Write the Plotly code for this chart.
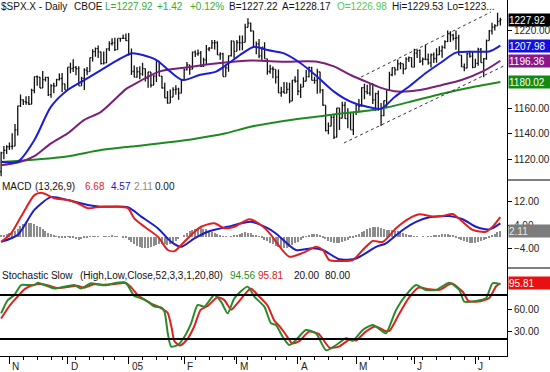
import pandas as pd
import plotly.graph_objects as go

# ---------------- trading calendar (categories) ----------------
HOLIDAYS = ["2004-11-25", "2004-12-24", "2005-01-17", "2005-02-21",
            "2005-03-25", "2005-05-30", "2005-07-04"]
trade_dates = [d for d in pd.bdate_range("2004-10-27", "2005-07-15")
               if d.strftime("%Y-%m-%d") not in HOLIDAYS]
n_bars = len(trade_dates)
bar_idx = list(range(n_bars))

# ---------------- daily OHLC ($SPX) ----------------
opens = [
    1111.1, 1125.4, 1127.4,
    1130.2, 1130.5, 1130.6, 1143.2, 1161.7, 1166.2, 1164.9, 1164.1, 1162.9, 1173.5, 1184.2, 1183.8, 1175.4, 1181.9, 1183.6, 1170.3, 1177.2, 1176.9, 1181.8, 1182.7, 1178.6,
    1173.8, 1191.4, 1190.3, 1191.2, 1190.3, 1177.1, 1182.8, 1189.2, 1188.0, 1198.7, 1203.4, 1205.7, 1203.2, 1194.2, 1194.7, 1205.5, 1209.6, 1210.1, 1204.9, 1213.5, 1213.5, 1213.6,
    1211.9, 1202.1, 1188.1, 1183.7, 1187.9, 1186.2, 1190.3, 1183.0, 1187.7, 1177.5, 1184.5, 1196.0, 1184.6, 1175.4, 1167.9, 1163.8, 1168.4, 1174.1, 1174.6, 1171.4,
    1181.3, 1189.4, 1193.2, 1189.9, 1203.0, 1201.7, 1202.3, 1192.0, 1197.0, 1205.3, 1206.1, 1210.1, 1210.3, 1200.8, 1201.6, 1184.2, 1190.8, 1200.2, 1211.4,
    1203.6, 1210.4, 1210.1, 1210.5, 1222.1, 1225.3, 1219.4, 1207.0, 1209.3, 1200.1, 1206.8, 1197.8, 1188.1, 1190.2, 1189.7, 1183.8, 1171.7, 1172.5, 1171.4, 1174.3, 1165.4, 1181.4,
    1180.6, 1172.9, 1176.1, 1180.6, 1184.1, 1191.1, 1181.2, 1181.2, 1187.8, 1173.8, 1162.1, 1142.6, 1146.0, 1152.8, 1137.5, 1160.0, 1152.1, 1162.1, 1151.8, 1156.4, 1143.2,
    1156.9, 1162.2, 1161.2, 1175.7, 1172.6, 1171.4, 1178.8, 1166.2, 1171.1, 1159.4, 1154.1, 1165.7, 1173.8, 1185.6, 1191.1, 1189.3, 1193.9, 1194.1, 1190.0, 1197.6, 1198.8,
    1191.5, 1202.2, 1204.3, 1196.0, 1197.5, 1197.3, 1194.7, 1200.9, 1198.1, 1200.8, 1203.9, 1206.6, 1211.0, 1217.0, 1216.1, 1213.6, 1213.9, 1200.7, 1191.6, 1190.7, 1201.6, 1199.9,
    1191.3, 1194.4, 1205.0, 1194.9, 1197.9, 1211.9, 1219.4, 1222.2, 1223.3, 1227.0,
]
highs = [
    1126.3, 1130.7, 1131.4,
    1133.4, 1140.5, 1147.6, 1161.7, 1170.3, 1166.8, 1169.0, 1169.3, 1174.8, 1184.2, 1185.0, 1183.8, 1188.5, 1184.0, 1184.0, 1178.2, 1179.5, 1182.5, 1186.6, 1186.9, 1178.7,
    1191.4, 1194.8, 1197.5, 1192.4, 1192.2, 1184.1, 1190.5, 1191.5, 1198.7, 1205.3, 1206.6, 1208.0, 1203.2, 1203.4, 1205.9, 1211.4, 1213.7, 1214.1, 1213.5, 1213.9, 1216.5, 1217.3,
    1217.8, 1205.8, 1192.7, 1191.6, 1192.2, 1194.8, 1190.3, 1187.9, 1187.7, 1185.2, 1196.0, 1196.0, 1184.6, 1179.5, 1173.0, 1174.3, 1176.0, 1177.5, 1175.6, 1182.0,
    1190.4, 1195.3, 1193.2, 1203.5, 1204.2, 1205.1, 1203.8, 1198.7, 1208.4, 1206.9, 1212.4, 1212.4, 1211.3, 1202.9, 1202.5, 1193.5, 1200.4, 1212.2, 1211.4,
    1212.3, 1215.8, 1215.7, 1224.8, 1229.1, 1225.7, 1219.4, 1211.2, 1213.0, 1206.8, 1210.5, 1197.8, 1193.3, 1192.0, 1189.7, 1189.6, 1176.3, 1180.1, 1179.9, 1179.4, 1181.5, 1184.5,
    1189.8, 1178.6, 1183.6, 1189.3, 1191.9, 1191.8, 1184.1, 1190.2, 1187.8, 1174.7, 1162.1, 1148.9, 1154.7, 1155.5, 1160.0, 1160.0, 1164.8, 1164.8, 1159.9, 1156.4, 1157.0,
    1162.9, 1166.9, 1176.0, 1178.6, 1177.8, 1178.9, 1178.8, 1171.8, 1173.4, 1163.8, 1165.8, 1174.4, 1187.9, 1191.1, 1191.2, 1197.4, 1195.3, 1194.1, 1199.0, 1199.6, 1198.8,
    1205.6, 1204.7, 1205.1, 1198.8, 1208.9, 1202.0, 1201.9, 1202.8, 1206.0, 1207.5, 1208.1, 1212.1, 1219.6, 1219.1, 1217.1, 1219.6, 1216.4, 1200.7, 1194.3, 1202.5, 1204.1, 1203.3,
    1197.9, 1206.3, 1206.1, 1198.5, 1212.7, 1220.0, 1225.5, 1224.5, 1233.2, 1229.5,
]
lows = [
    1107.4, 1120.6, 1124.6,
    1127.6, 1128.1, 1130.6, 1138.8, 1160.7, 1162.3, 1162.5, 1162.3, 1162.9, 1171.4, 1177.1, 1175.3, 1175.4, 1180.4, 1169.2, 1167.9, 1171.4, 1176.9, 1181.1, 1172.4, 1173.8,
    1173.8, 1186.7, 1187.7, 1185.2, 1177.1, 1177.1, 1173.8, 1185.2, 1188.0, 1195.8, 1199.4, 1198.4, 1193.5, 1193.4, 1194.7, 1203.9, 1208.0, 1203.8, 1204.9, 1211.0, 1213.4, 1211.6,
    1200.3, 1185.4, 1183.7, 1183.3, 1182.2, 1184.8, 1180.4, 1175.6, 1175.8, 1177.5, 1180.1, 1184.4, 1175.1, 1167.8, 1163.2, 1163.8, 1168.4, 1170.2, 1166.3, 1171.4,
    1181.0, 1188.9, 1185.6, 1189.7, 1199.3, 1200.2, 1191.5, 1191.5, 1193.3, 1203.6, 1205.5, 1205.1, 1200.7, 1197.2, 1184.2, 1184.2, 1187.8, 1199.6, 1198.1,
    1203.6, 1204.2, 1204.5, 1210.5, 1222.1, 1218.6, 1206.7, 1201.4, 1198.2, 1197.0, 1197.8, 1185.6, 1186.3, 1182.8, 1178.8, 1171.6, 1168.7, 1171.4, 1171.4, 1163.7, 1165.4, 1179.5,
    1169.9, 1167.7, 1176.1, 1180.6, 1183.5, 1181.2, 1178.7, 1170.9, 1171.4, 1161.7, 1141.9, 1139.8, 1146.0, 1136.2, 1137.5, 1143.0, 1152.1, 1151.8, 1144.4, 1143.2, 1139.2,
    1154.7, 1156.7, 1161.2, 1166.8, 1170.5, 1169.4, 1163.0, 1157.7, 1157.8, 1146.2, 1153.6, 1159.9, 1173.8, 1184.5, 1185.2, 1188.8, 1189.9, 1186.0, 1190.0, 1195.3, 1191.5,
    1191.3, 1198.4, 1194.7, 1192.8, 1197.3, 1193.3, 1191.1, 1194.6, 1194.8, 1200.8, 1198.7, 1205.5, 1210.7, 1210.7, 1211.9, 1204.9, 1200.7, 1191.5, 1188.3, 1190.5, 1198.7, 1190.5,
    1191.3, 1192.5, 1194.8, 1183.6, 1197.2, 1211.9, 1216.6, 1219.6, 1223.3, 1223.5,
]
closes = [
    1125.4, 1127.4, 1130.2,
    1130.5, 1130.6, 1143.2, 1161.7, 1166.2, 1164.9, 1164.1, 1162.9, 1173.5, 1184.2, 1183.8, 1175.4, 1181.9, 1183.6, 1170.3, 1177.2, 1176.9, 1181.8, 1182.7, 1178.6, 1173.8,
    1191.4, 1190.3, 1191.2, 1190.3, 1177.1, 1182.8, 1189.2, 1188.0, 1198.7, 1203.4, 1205.7, 1203.2, 1194.2, 1194.7, 1205.5, 1209.6, 1210.1, 1204.9, 1213.5, 1213.5, 1213.6, 1211.9,
    1202.1, 1188.1, 1183.7, 1187.9, 1186.2, 1190.3, 1183.0, 1187.7, 1177.5, 1184.5, 1196.0, 1184.6, 1175.4, 1167.9, 1163.8, 1168.4, 1174.1, 1174.6, 1171.4, 1181.3,
    1189.4, 1193.2, 1189.9, 1203.0, 1201.7, 1202.3, 1192.0, 1197.0, 1205.3, 1206.1, 1210.1, 1210.3, 1200.8, 1201.6, 1184.2, 1190.8, 1200.2, 1211.4, 1203.6,
    1210.4, 1210.1, 1210.5, 1222.1, 1225.3, 1219.4, 1207.0, 1209.3, 1200.1, 1206.8, 1197.8, 1188.1, 1190.2, 1189.7, 1183.8, 1171.7, 1172.5, 1171.4, 1174.3, 1165.4, 1181.4, 1180.6,
    1172.9, 1176.1, 1180.6, 1184.1, 1191.1, 1181.2, 1181.2, 1187.8, 1173.8, 1162.1, 1142.6, 1146.0, 1152.8, 1137.5, 1160.0, 1152.1, 1162.1, 1151.8, 1156.4, 1143.2, 1156.9,
    1162.2, 1161.2, 1175.7, 1172.6, 1171.4, 1178.8, 1166.2, 1171.1, 1159.4, 1154.1, 1165.7, 1173.8, 1185.6, 1191.1, 1189.3, 1193.9, 1194.1, 1190.0, 1197.6, 1198.8, 1191.5,
    1202.2, 1204.3, 1196.0, 1197.5, 1197.3, 1194.7, 1200.9, 1198.1, 1200.8, 1203.9, 1206.6, 1211.0, 1217.0, 1216.1, 1213.6, 1213.9, 1200.7, 1191.6, 1190.7, 1201.6, 1199.9, 1191.3,
    1194.4, 1205.0, 1194.9, 1197.9, 1211.9, 1219.4, 1222.2, 1223.3, 1226.5, 1227.92,
]

# ---------------- moving averages (read at sample bars) ----------------
ma20_idx = [0, 6, 12, 18, 24, 30, 36, 42, 47, 51, 56, 61, 65.5, 71.5, 77.5, 82, 87, 91, 96, 102,
            108, 114, 120, 126, 132, 137, 142, 147, 153, 159, 164, 171, 176, 180]
ma20_val = [1118.7, 1118.7, 1135.4, 1161.0, 1173.8, 1181.5, 1189.2, 1196.9, 1202.0, 1200.8, 1196.9,
            1188.0, 1181.5, 1185.4, 1188.0, 1194.4, 1202.0, 1207.0, 1204.6, 1202.0, 1194.4, 1184.0,
            1172.6, 1164.9, 1161.0, 1159.5, 1168.7, 1176.4, 1186.7, 1195.6, 1202.6, 1203.3, 1203.5, 1207.98]
ma50_idx = [0, 6, 12, 18, 24, 30, 36, 45, 47, 57, 66, 79, 90, 102, 114, 120, 126, 133, 137, 143,
            151, 159, 166, 174, 180]
ma50_val = [1116.0, 1118.0, 1123.0, 1132.8, 1140.5, 1150.8, 1157.0, 1174.5, 1177.0, 1188.0, 1191.0,
            1194.6, 1196.5, 1195.6, 1195.6, 1192.0, 1185.4, 1179.0, 1175.5, 1172.6, 1173.8, 1177.7,
            1181.5, 1188.5, 1196.36]
ma200_idx = [0, 23, 36, 47, 69, 81, 90, 105, 120, 137, 147, 159, 171, 180]
ma200_val = [1118.5, 1122.5, 1127.7, 1130.3, 1136.0, 1140.5, 1145.6, 1151.0, 1155.0, 1159.5,
             1164.5, 1171.0, 1176.5, 1180.02]

# trend channel (dashed), read at its end points
channel_upper_idx = [129.8, 176.6]
channel_upper_price = [1183.8, 1233.8]
channel_lower_idx = [123.6, 182.0]
channel_lower_price = [1133.1, 1193.1]

# ---------------- MACD (13,26,9) ----------------
macd_idx = [0, 3.6, 7.2, 12, 14.4, 16.8, 19.2, 24, 27.6, 31.2, 36, 40.8, 45.7, 48, 51.7, 56.5, 60.1,
            62.5, 64.9, 68.5, 72.1, 76.9, 80.5, 84.1, 89.5, 93.7, 97.3, 99.1, 103.9, 108.8, 113.6,
            116, 118.4, 123.2, 126.8, 130.4, 134, 137.6, 142.4, 147.2, 150.8, 155.6, 159.2, 162.8,
            166.4, 170, 174.8, 177.2, 180]
macd_val = [-1.8, 1.1, 6.9, 14.3, 15.1, 14.3, 13.2, 12.6, 11.5, 9.8, 10.3, 10.3, 9.8, 6.3, 3.4, 0.0,
            -4.6, -5.0, -2.9, 0.6, 3.4, 4.6, 2.9, 3.4, 6.0, 4.0, 0.6, -1.8, -6.9, -5.6, -3.5, -4.6,
            -8.1, -8.4, -8.1, -4.6, -1.5, -1.8, 2.9, 6.3, 7.7, 6.9, 7.1, 7.8, 5.1, 2.3, 1.7, 3.4, 6.68]
signal_idx = [0, 6, 12, 18, 24, 31.2, 36, 45.7, 50.5, 56.5, 61.3, 64.9, 69.7, 74.5, 81.7, 90.1, 96.1,
              99.1, 106.3, 112.4, 116, 122, 128, 135.2, 138.8, 144.8, 149.6, 154.4, 161.6, 166.4,
              171.2, 176, 180]
signal_val = [-1.8, 0.6, 9.2, 13.6, 12.6, 10.9, 10.3, 10.1, 6.9, 2.9, -1.8, -3.5, -0.6, 1.7, 3.4, 5.1,
              2.9, 1.1, -4.6, -4.0, -4.6, -7.8, -7.5, -3.5, -2.3, 2.3, 5.1, 6.7, 7.1, 6.0, 3.4, 2.5, 4.57]
macd_hist = [
    0.3, 0.5, 0.8, 1.2, 1.6, 2.0,
    2.8, 3.5, 4.2, 4.6, 4.8, 4.6, 4.4,
    3.8, 3.2, 2.6, 2.0, 1.4, 0.9, 0.4,
    0.1, -0.2, -0.3, -0.2, -0.1, -0.3, -0.6, -0.9, -1.1, -0.9,
    -0.6, -0.3, -0.1, 0.1, 0.2, 0.1, 0.0, -0.1, 0.1, 0.2,
    0.3, 0.2, 0.1, 0.0, -0.2, -0.5,
    -1.2, -2.0, -2.6, -3.2, -3.6, -3.9, -4.0, -3.8, -3.5, -3.1,
    -2.8, -2.6, -2.4, -2.6, -2.8, -2.5, -2.0, -1.4, -0.7, 0.0,
    0.6, 1.2, 1.8, 2.3, 2.7, 3.0, 3.0, 2.8, 2.5, 2.1,
    1.7, 1.2, 0.8, 0.4, 0.1, -0.1, 0.0, 0.2, 0.4, 0.7,
    1.0, 1.3, 1.5, 1.4, 1.1, 0.7, 0.3, -0.1, -0.5, -1.0,
    -1.5, -2.1, -2.7, -3.2, -3.6, -3.9, -4.0, -3.8, -3.4, -2.9,
    -2.3, -1.7, -1.0, -0.4, 0.2, 0.6, 0.9, 1.0, 0.8, 0.4,
    -0.2, -0.8, -1.4, -1.9, -2.2, -2.3, -2.1, -1.8, -1.4, -1.0, -0.6, -0.2,
    0.3, 0.9, 1.5, 2.1, 2.6, 3.0, 3.3, 3.4, 3.2, 2.9, 2.6, 2.4,
    2.3, 2.2, 2.0, 1.8, 1.5, 1.2, 0.9, 0.6, 0.4, 0.2, 0.1,
    0.0, -0.1, 0.0, 0.1, 0.2, 0.3, 0.4, 0.6, 0.8, 0.9, 0.8, 0.6, 0.3,
    -0.2, -0.7, -1.2, -1.6, -1.9, -2.1, -2.2, -2.1, -1.9, -1.6, -1.2, -0.7, -0.2,
    0.4, 1.0, 1.6, 2.11,
]

# ---------------- Stochastic Slow (52,3,3) ----------------
stoch_k_idx = [0, 2.4, 4.8, 7.2, 9.6, 12, 13.2, 15.6, 19.2, 24, 26.4, 28.8, 32.4, 36, 38.4, 40.8,
               44.4, 45.6, 48, 50.5, 52.9, 55.3, 57.7, 58.9, 60.1, 61.3, 63.7, 66.1, 68.5, 70.9,
               73.3, 76.9, 79.3, 81.7, 84.1, 88.9, 91.3, 94.9, 97.3, 99.1, 101.5, 103.9, 106.3,
               109.9, 113.5, 117.2, 120.8, 124.4, 126.8, 130.4, 134, 137.6, 138.8, 142.4, 146,
               149.6, 153.2, 156.8, 161.6, 165.2, 167, 171.2, 174.8, 177.2, 180]
stoch_k_val = [55, 73, 80, 93.6, 93.6, 93.6, 96.8, 93.6, 89, 92.3, 93.6, 89, 96, 93.6, 93.6, 96,
               97.3, 93.6, 78.6, 75.5, 70.9, 64.1, 63.2, 57.2, 27.7, 9.5, 11.8, 23.1, 41.4, 66.4,
               64.1, 80, 70.9, 55, 75.5, 91.4, 77.7, 64.1, 41.4, 39, 23.1, 11.8, 18.6, 32.3, 27.7,
               4.5, 11.8, 20.9, 17.7, 32.3, 39, 29.9, 27.7, 59.5, 80, 93.6, 86.8, 86.8, 96.8, 86.8,
               70.9, 71.8, 75.5, 96, 94.56]
stoch_d_idx = [0, 3, 5.5, 8.5, 11, 14, 17, 20.5, 25, 27.5, 30, 33.5, 37, 40, 42, 45, 47, 49.5, 52,
               54.5, 57, 60, 61.5, 62.5, 64.5, 67, 69.5, 72, 74.5, 78, 80.5, 83, 85.5, 90, 92.5, 96,
               98.5, 100.5, 103, 105, 107.5, 111, 114.5, 118.5, 122, 125.5, 128, 131.5, 135, 138.5,
               140, 143.5, 147, 150.5, 154, 158, 162.5, 166.5, 168.5, 172, 176, 178.5, 180]
stoch_d_val = [48, 65, 76, 88, 93, 95, 93, 89.5, 91.5, 92.5, 90, 94.5, 94, 94.5, 95.5, 96.5, 90, 79,
               73, 67.5, 63.5, 56, 35, 17, 11, 19, 36, 60, 65, 77, 73, 60, 70, 89, 80, 66, 45, 37, 24,
               14, 17, 30, 27, 8, 10, 19, 18, 30, 37, 31, 31, 54, 76, 90, 88, 87, 95.5, 84, 72, 71,
               76, 92, 95.81]
stoch_levels = [20, 80]

# ---------------- text ----------------
header_parts = [("$SPX.X - Daily", -1, "#111111"), ("CBOE", 72, "#111111"),
                ("L=1227.92", 103, "#33b033"), ("+1.42", 155, "#33b033"), ("+0.12%", 188, "#33b033"),
                ("B=1227.22", 227, "#111111"), ("A=1228.17", 280, "#111111"),
                ("O=1226.98", 335, "#55c855"), ("Hi=1229.53", 390, "#111111"),
                ("Lo=1223...", 445, "#111111")]
macd_parts = [("MACD", 0, "#111111"), ("(13,26,9)", 33, "#111111"), ("6.68", 83, "#e02828"),
              ("4.57", 109, "#2020c8"), ("2.11", 132, "#8a8a8a"), ("0.00", 153, "#111111")]
stoch_parts = [("Stochastic Slow", 0, "#111111"), ("(High,Low,Close,52,3,3,1,20,80)", 78, "#111111"),
               ("94.56", 228, "#2a8a2a"), ("95.81", 256, "#d82020"), ("20.00", 292, "#111111"),
               ("80.00", 323, "#111111")]
month_labels = ["N", "D", "05", "F", "M", "A", "M", "J", "J"]
price_ticks = [1120, 1140, 1160, 1220]
macd_ticks = [-4, 4, 12]
stoch_ticks = [30, 60]

month_idx = [i for i in range(1, n_bars) if trade_dates[i].month != trade_dates[i - 1].month]
week_idx = [i for i in range(1, n_bars) if trade_dates[i].weekday() < trade_dates[i - 1].weekday()]

# ---------------- figure ----------------
PW, PH = 507, 356
FONT = "Arial, Liberation Sans, sans-serif"
BLUE, PURPLE, GREEN = "#1c1cd6", "#7a1f7a", "#1f8a1f"
MRED, MBLUE = "#e02020", "#1c1cc8"

def py(p):
    return 1 - p / PH

fig = go.Figure()
fig.add_trace(go.Ohlc(x=bar_idx, open=opens, high=highs, low=lows, close=closes,
                      increasing_line_color="#111111", decreasing_line_color="#111111",
                      line_width=1.3, tickwidth=0.4, xaxis="x", yaxis="y", hoverinfo="skip"))
fig.add_trace(go.Scatter(x=ma200_idx, y=ma200_val, mode="lines", line=dict(color=GREEN, width=2, shape="spline", smoothing=0.8), yaxis="y"))
fig.add_trace(go.Scatter(x=ma50_idx, y=ma50_val, mode="lines", line=dict(color=PURPLE, width=2, shape="spline", smoothing=0.8), yaxis="y"))
fig.add_trace(go.Scatter(x=ma20_idx, y=ma20_val, mode="lines", line=dict(color=BLUE, width=2, shape="spline", smoothing=0.8), yaxis="y"))
for cx, cy in [(channel_upper_idx, channel_upper_price), (channel_lower_idx, channel_lower_price)]:
    fig.add_trace(go.Scatter(x=cx, y=cy, mode="lines", line=dict(color="#333333", width=1, dash="3px,3px"), yaxis="y"))

fig.add_trace(go.Bar(x=bar_idx, y=macd_hist, marker_color="#8c8c8c", marker_line_width=0, width=0.45, yaxis="y2"))
fig.add_trace(go.Scatter(x=signal_idx, y=signal_val, mode="lines", line=dict(color=MBLUE, width=2, shape="spline", smoothing=0.7), yaxis="y2"))
fig.add_trace(go.Scatter(x=macd_idx, y=macd_val, mode="lines", line=dict(color=MRED, width=2, shape="spline", smoothing=0.7), yaxis="y2"))

fig.add_trace(go.Scatter(x=stoch_d_idx, y=stoch_d_val, mode="lines", line=dict(color="#e02020", width=2, shape="spline", smoothing=0.6), yaxis="y3"))
fig.add_trace(go.Scatter(x=stoch_k_idx, y=stoch_k_val, mode="lines", line=dict(color="#2a8a2a", width=2, shape="spline", smoothing=0.6), yaxis="y3"))

yax = dict(side="right", anchor="x", showline=True, linecolor="black", linewidth=1,
           ticks="outside", ticklen=4, tickcolor="black", showgrid=False, zeroline=False,
           tickfont=dict(family=FONT, size=10, color="#222222"), tickformat=".2f")
fig.update_layout(
    width=550, height=372, margin=dict(l=0, r=43, t=0, b=16),
    paper_bgcolor="white", plot_bgcolor="white", showlegend=False, bargap=0,
    xaxis=dict(range=[-0.4, 182.4], anchor="y3", showline=True, linecolor="black", linewidth=1,
               ticks="outside", tickvals=month_idx, ticklen=7, tickcolor="black",
               showticklabels=False, showgrid=False, zeroline=False,
               rangeslider=dict(visible=False),
               minor=dict(tickvals=week_idx, ticks="outside", ticklen=3, tickcolor="black", showgrid=False)),
    yaxis=dict(domain=[py(180), 1], range=[1104.6, 1243.1], tickvals=price_ticks, **yax),
    yaxis2=dict(domain=[py(268), py(180)], range=[-10.8, 19.5], tickvals=macd_ticks, **yax),
    yaxis3=dict(domain=[0, py(268)], range=[-3.2, 116.8], tickvals=stoch_ticks, **yax),
)

for lv in stoch_levels:
    fig.add_shape(type="line", xref="paper", x0=0, x1=1, yref="y3", y0=lv, y1=lv,
                  line=dict(color="black", width=2))
for sep in [180, 268]:
    fig.add_shape(type="line", xref="paper", x0=1, x1=1.1, yref="paper", y0=py(sep), y1=py(sep),
                  line=dict(color="black", width=1))

def add_text_row(parts, ypx):
    for txt, xpx, col in parts:
        fig.add_annotation(x=xpx / PW, y=py(ypx), xref="paper", yref="paper", text=txt,
                           showarrow=False, xanchor="left", yanchor="middle",
                           font=dict(family=FONT, size=10, color=col))

add_text_row(header_parts, 7)
add_text_row(macd_parts, 186)
add_text_row(stoch_parts, 275)

for mi, lab in zip(month_idx, month_labels):
    fig.add_annotation(x=mi, xref="x", y=0, yref="paper", text=lab, showarrow=False,
                       xanchor="left", yanchor="top", xshift=1, yshift=-3,
                       font=dict(family=FONT, size=10, color="#222222"))

value_boxes = [(closes[-1], "y", "#000000", "white"), (ma20_val[-1], "y", "#1010e0", "white"),
               (ma50_val[-1], "y", "#8a168a", "white"), (ma200_val[-1], "y", "#138a13", "white"),
               (macd_hist[-1], "y2", "#7c7c7c", "#e8e8e8"), (stoch_d_val[-1], "y3", "#e81010", "white")]
for val, yref, bg, fc in value_boxes:
    fig.add_annotation(x=1, xref="paper", y=val, yref=yref, text=f"{val:.2f}", showarrow=False,
                       xanchor="left", yanchor="middle", xshift=1, width=42, height=12,
                       align="left", borderpad=0, bgcolor=bg,
                       font=dict(family=FONT, size=10, color=fc))

fig.write_html("out.html", config={"displayModeBar": False},
               post_script="document.body.style.margin='0px';")
